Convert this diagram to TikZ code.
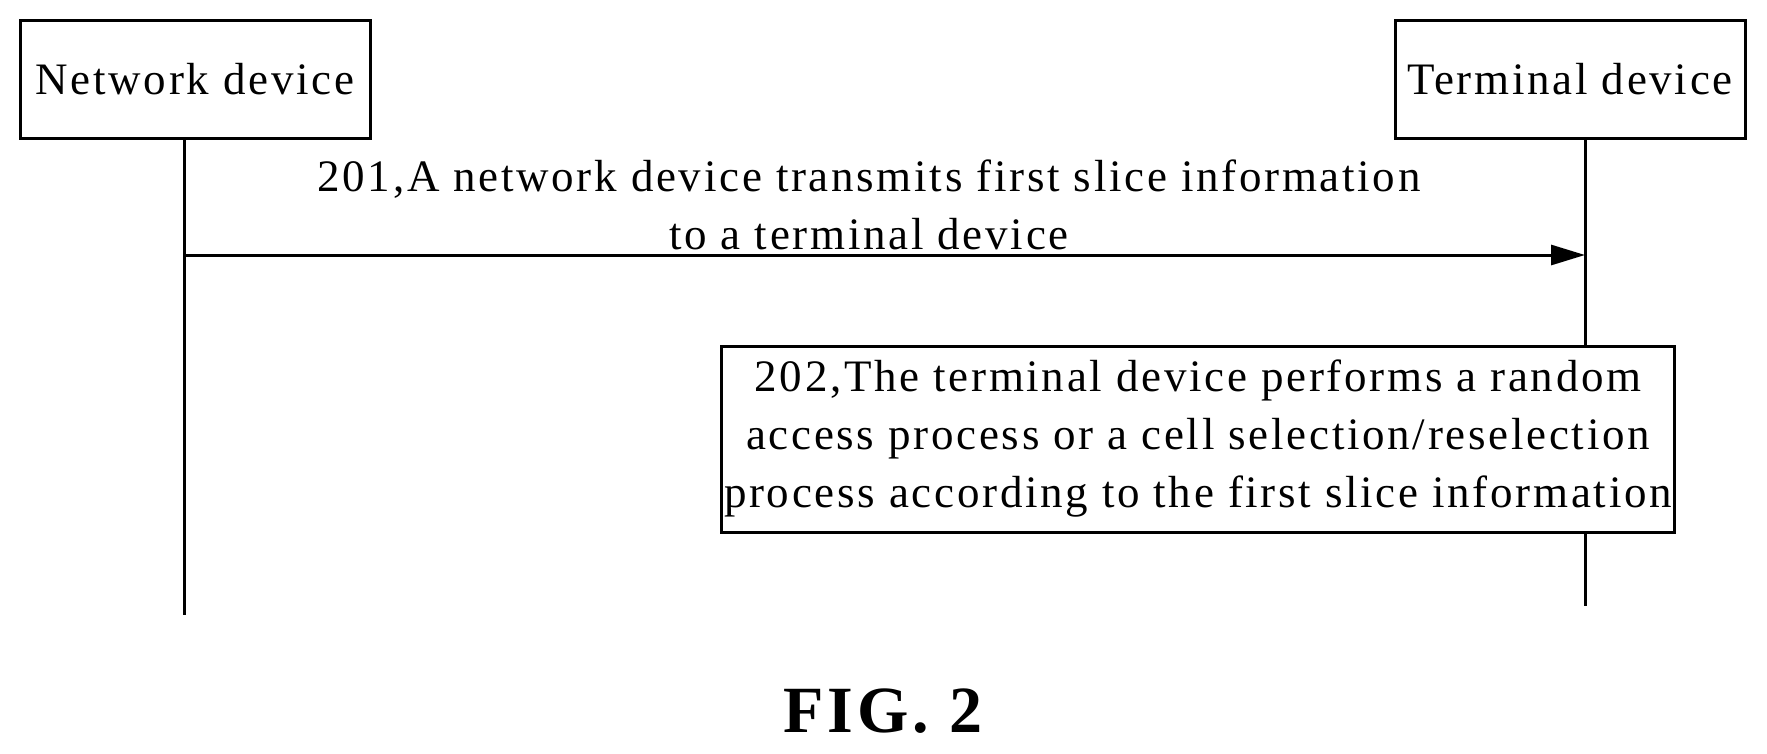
\documentclass[tikz,border=0pt]{standalone}
\usepackage{fontspec}
\setmainfont{Liberation Serif}[LetterSpace=6]
\usetikzlibrary{arrows.meta}
\begin{document}
\begin{tikzpicture}[x=1pt,y=-1pt,line width=3pt,
  actor/.style={draw,minimum width=350,minimum height=118,inner sep=0,font=\fontsize{45}{58}\selectfont},
  txt/.style={align=center,font=\fontsize{45}{58}\selectfont,inner sep=0}]
\useasboundingbox (0,0) rectangle (1767,753);
\node[actor] (nd) at (195,79) {Network device};
\node[actor] (td) at (1570,79) {Terminal device};
\coordinate (ne) at (184,615);
\coordinate (te) at (1585,606);
\coordinate (a1) at (184,255);
\coordinate (a2) at (1585,255);
\node[draw,txt,minimum width=953,minimum height=186] (b2) at (1198,439) {202,The terminal device performs a random\\access process or a cell selection/reselection\\process according to the first slice information};
\draw (nd.south -| ne) -- (ne);
\draw (td.south -| te) -- (b2.north -| te);
\draw (b2.south -| te) -- (te);
\draw[-{Triangle[length=34,width=20]}] (a1) -- (a2);
\node[txt] (l1) at (869,205) {201,A network device transmits first slice information\\to a terminal device};
\node[font=\fontsize{66}{70}\selectfont\bfseries] (fig) at (883,711) {FIG. 2};
\end{tikzpicture}
\end{document}
